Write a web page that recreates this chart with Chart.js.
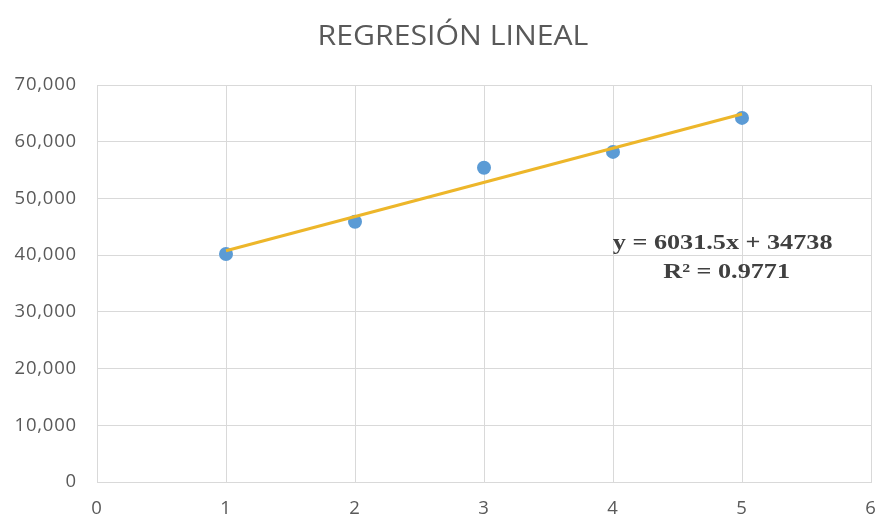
<!DOCTYPE html>
<html>
<head>
<meta charset="utf-8">
<script src="https://cdn.jsdelivr.net/npm/chart.js@4.4.1/dist/chart.umd.min.js"></script>
<style>
  html, body { margin: 0; padding: 0; background: #ffffff; }
  #wrap { width: 879px; height: 518px; position: relative; }
</style>
</head>
<body>
<div id="wrap"><canvas id="chart" width="879" height="518"></canvas></div>
<script>
// Observations: period number and measured value
const periods = [1, 2, 3, 4, 5];
const values = [40200, 45900, 55400, 58200, 64200];

// Fitted linear trend, as printed on the chart
const slope = 6031.5;
const intercept = 34738;
const rSquared = 0.9771;

const titleText = 'REGRESIÓN LINEAL';
const equationLines = [
  'y = ' + slope + 'x + ' + intercept,
  'R² = ' + rSquared
];

const xTicks = [0, 1, 2, 3, 4, 5, 6];
const yTicks = [0, 10000, 20000, 30000, 40000, 50000, 60000, 70000];

const points = periods.map((p, i) => ({ x: p, y: values[i] }));
const firstX = periods[0];
const lastX = periods[periods.length - 1];
const trend = [
  { x: firstX, y: slope * firstX + intercept },
  { x: lastX, y: slope * lastX + intercept }
];

const gridColor = '#d9d9d9';
const tickColor = '#595959';
const tickFont = { family: '"Open Sans", sans-serif', size: 18.5 };

// Slightly wider letter spacing for the axis labels
const spacing = {
  id: 'spacing',
  beforeDraw(chart) { chart.ctx.letterSpacing = '0.8px'; },
  afterDraw(chart) { chart.ctx.letterSpacing = '0px'; }
};

// Draws text stretched horizontally around its centre
function wideText(ctx, text, x, y, sx) {
  ctx.save();
  ctx.translate(x, y);
  ctx.scale(sx, 1);
  ctx.fillText(text, 0, 0);
  ctx.restore();
}

// Title and regression equation drawn as canvas text
const annotations = {
  id: 'annotations',
  afterDraw(chart) {
    const ctx = chart.ctx;
    const xs = chart.scales.x, ys = chart.scales.y;
    ctx.save();
    ctx.letterSpacing = '0px';
    ctx.textAlign = 'center';
    ctx.textBaseline = 'middle';

    ctx.fillStyle = '#595959';
    ctx.font = '27px "Open Sans", sans-serif';
    wideText(ctx, titleText, 453, 37, 1.12);

    ctx.fillStyle = '#404040';
    ctx.font = 'bold 22px "Liberation Serif", "Times New Roman", serif';
    const cx = xs.getPixelForValue(4.85);
    wideText(ctx, equationLines[0], cx, ys.getPixelForValue(42000), 1.19);
    wideText(ctx, equationLines[1], cx + 4, ys.getPixelForValue(36900), 1.19);
    ctx.restore();
  }
};

new Chart(document.getElementById('chart'), {
  type: 'scatter',
  data: {
    datasets: [
      {
        label: 'Tendencia',
        type: 'line',
        data: trend,
        borderColor: '#edb62a',
        borderWidth: 3,
        pointRadius: 0,
        fill: false,
        order: 0
      },
      {
        label: 'Valores',
        data: points,
        backgroundColor: '#5b9bd5',
        borderColor: '#5b9bd5',
        pointRadius: 7,
        pointBorderWidth: 0,
        order: 1
      }
    ]
  },
  options: {
    responsive: false,
    animation: false,
    devicePixelRatio: 1,
    layout: { padding: { top: 85, right: 0, left: 0, bottom: 0 } },
    plugins: {
      legend: { display: false },
      title: { display: false },
      tooltip: { enabled: false }
    },
    scales: {
      x: {
        type: 'linear',
        min: xTicks[0],
        max: xTicks[xTicks.length - 1],
        afterBuildTicks(scale) { scale.ticks = xTicks.map(v => ({ value: v })); },
        afterFit(scale) {
          scale.height = 36;
          scale.paddingLeft = 0;
          scale.paddingRight = 8;
        },
        grid: { color: gridColor, lineWidth: 1, drawTicks: false },
        border: { color: gridColor, width: 1 },
        ticks: { color: tickColor, font: tickFont, padding: 16 }
      },
      y: {
        type: 'linear',
        min: yTicks[0],
        max: yTicks[yTicks.length - 1],
        afterBuildTicks(scale) { scale.ticks = yTicks.map(v => ({ value: v })); },
        afterFit(scale) { scale.width = 97; },
        grid: { color: gridColor, lineWidth: 1, drawTicks: false },
        border: { color: gridColor, width: 1 },
        ticks: {
          color: tickColor,
          font: tickFont,
          padding: 20,
          callback: v => v.toLocaleString('en-US')
        }
      }
    }
  },
  plugins: [spacing, annotations]
});
</script>
</body>
</html>
